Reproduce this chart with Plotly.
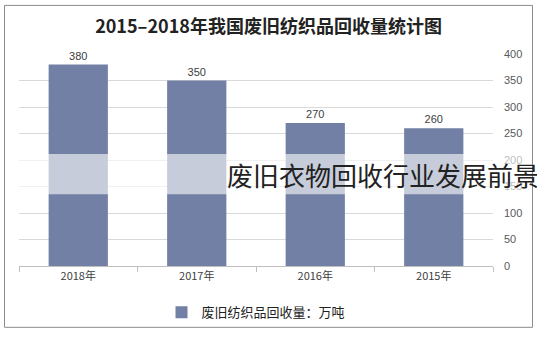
import plotly.graph_objects as go

categories = ["2018年", "2017年", "2016年", "2015年"]
values = [380, 350, 270, 260]
series_name = "废旧纺织品回收量：万吨"
title_text = "2015–2018年我国废旧纺织品回收量统计图"
watermark = "废旧衣物回收行业发展前景"
y_ticks = [0, 50, 100, 150, 200, 250, 300, 350, 400]

bar_color = "#7180A4"

fig = go.Figure()
fig.add_trace(go.Bar(
    x=categories, y=values, name=series_name,
    marker=dict(color=bar_color, line=dict(width=0)),
    width=0.5,
    text=[str(v) for v in values], textposition="outside",
    textfont=dict(size=11, color="#404040", family="Liberation Sans, Arial"),
    cliponaxis=False,
))

fig.update_layout(
    width=537, height=339,
    margin=dict(l=19, r=44, t=54, b=69),
    paper_bgcolor="white", plot_bgcolor="white",
    showlegend=True,
    title=dict(text=title_text, x=0.5, xanchor="center", y=1 - 27 / 339, yanchor="middle",
               font=dict(size=18, color="#222222", family="Noto Sans CJK SC", weight="bold")),
    legend=dict(orientation="h", x=0.5, xanchor="center", y=-0.218, yanchor="middle",
                font=dict(size=13, color="#222222", family="Noto Sans CJK SC"),
                itemwidth=30, bgcolor="rgba(0,0,0,0)"),
    xaxis=dict(showgrid=False, showline=True, linecolor="#BFBFBF", linewidth=1,
               ticks="outside", tickson="boundaries", ticklen=5, tickcolor="#BFBFBF",
               tickfont=dict(size=11, color="#404040", family="Noto Sans CJK SC")),
    yaxis=dict(side="right", range=[0, 400], tickvals=y_ticks, showgrid=True,
               gridcolor="#D9D9D9", gridwidth=1, zeroline=False, showline=False,
               ticks="", ticklabelstandoff=10,
               tickfont=dict(size=11, color="#595959", family="Liberation Sans, Arial")),
    bargap=0.5,
)

# translucent watermark band
fig.add_shape(type="rect", xref="paper", yref="paper",
              x0=-0.05, x1=1.1, y0=(270 - 197) / 216, y1=(270 - 156) / 216,
              fillcolor="rgba(255,255,255,0.6)", line=dict(width=0), layer="above")
fig.add_annotation(text=watermark, xref="paper", yref="paper",
                   x=(225 - 19) / 474, xanchor="left", y=(270 - 177) / 216, yanchor="middle",
                   showarrow=False,
                   font=dict(size=26, color="#222222", family="Noto Sans CJK SC"))

# outer border
fig.add_shape(type="rect", xref="paper", yref="paper",
              x0=(4.5 - 19) / 474, x1=(532.5 - 19) / 474,
              y0=(270 - 332.5) / 216, y1=(270 - 4.5) / 216,
              line=dict(color="#8C8C8C", width=1), fillcolor="rgba(0,0,0,0)", layer="above")

fig.write_html("out.html")
